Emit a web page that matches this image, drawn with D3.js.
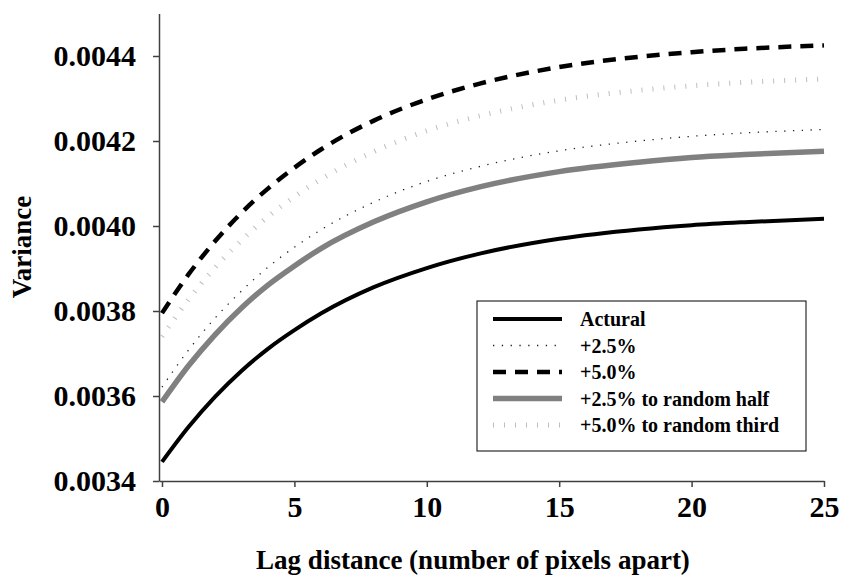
<!DOCTYPE html>
<html>
<head>
<meta charset="utf-8">
<script src="https://cdn.jsdelivr.net/npm/d3@7"></script>
<style>
  body { margin: 0; background: #fff; }
  svg text { font-family: "Liberation Serif", "Times New Roman", serif; font-weight: bold; fill: #000; }
  .axis path, .axis line { stroke: #404040; stroke-width: 1.5; }
</style>
</head>
<body>
<svg id="chart" width="841" height="585"></svg>
<script>
// lag distances (pixels apart)
const lags = [0, 1, 2, 3, 4, 5, 6, 8, 10, 12, 15, 18, 20, 22, 25];

// variance, one array per series
const actural = [0.003445, 0.003527, 0.003598, 0.003659, 0.003711, 0.003755, 0.003794, 0.003856, 0.003901, 0.003935, 0.003970, 0.003992, 0.004002, 0.004009, 0.004017];
const plus25 = [0.003621, 0.003708, 0.003783, 0.003847, 0.003903, 0.003950, 0.003991, 0.004056, 0.004105, 0.004140, 0.004177, 0.004200, 0.004211, 0.004219, 0.004227];
const plus50 = [0.003795, 0.003886, 0.003964, 0.004031, 0.004088, 0.004137, 0.004180, 0.004248, 0.004298, 0.004335, 0.004374, 0.004398, 0.004409, 0.004417, 0.004425];
const plus25Half = [0.003586, 0.003671, 0.003744, 0.003807, 0.003861, 0.003906, 0.003947, 0.004010, 0.004057, 0.004092, 0.004128, 0.004150, 0.004161, 0.004168, 0.004176];
const plus50Third = [0.003740, 0.003827, 0.003902, 0.003966, 0.004022, 0.004069, 0.004110, 0.004175, 0.004224, 0.004259, 0.004296, 0.004319, 0.004330, 0.004338, 0.004346];

const xTicks = [0, 5, 10, 15, 20, 25];
const yTicks = [0.0034, 0.0036, 0.0038, 0.0040, 0.0042, 0.0044];

const series = [
  { name: "Actural", values: actural, color: "#000", width: 4, dash: null },
  { name: "+2.5%", values: plus25, color: "#222", width: 1.3, dash: "1.3,7.5" },
  { name: "+5.0%", values: plus50, color: "#000", width: 4.5, dash: "13,9" },
  { name: "+2.5% to random half", values: plus25Half, color: "#808080", width: 5.5, dash: null },
  { name: "+5.0% to random third", values: plus50Third, color: "#bdbdbd", width: 5, dash: "1,10" }
];

const svg = d3.select("svg#chart");

// scales, left domain a touch below 0 so the y axis sits just left of lag 0
const x = d3.scaleLinear().domain([-0.113, 25]).range([159, 824]);
const y = d3.scaleLinear().domain([0.0034, 0.0045]).range([481, 13.5]);

// axes
svg.append("g")
  .attr("class", "axis")
  .attr("transform", "translate(0,481)")
  .call(d3.axisBottom(x).tickValues(xTicks).tickSizeInner(6).tickSizeOuter(0).tickPadding(8))
  .call(g => g.selectAll("text").style("font-size", "30px").attr("dy", "0.72em"));

svg.append("g")
  .attr("class", "axis")
  .attr("transform", "translate(159,0)")
  .call(d3.axisLeft(y).tickValues(yTicks).tickFormat(d3.format(".4f")).tickSizeInner(6).tickSizeOuter(0).tickPadding(17))
  .call(g => g.selectAll("text").style("font-size", "30px"));

// axis titles
svg.append("text")
  .attr("x", 473).attr("y", 569)
  .attr("text-anchor", "middle")
  .style("font-size", "27px")
  .text("Lag distance (number of pixels apart)");

svg.append("text")
  .attr("transform", "translate(31,247) rotate(-90)")
  .attr("text-anchor", "middle")
  .style("font-size", "27px")
  .text("Variance");

// lines
const line = d3.line()
  .x((d, i) => x(lags[i]))
  .y(d => y(d))
  .curve(d3.curveMonotoneX);

// draw in order so the dashed and grey lines sit on top of the light ones
const drawOrder = [4, 1, 0, 3, 2];
svg.append("g").selectAll("path")
  .data(drawOrder.map(i => series[i]))
  .enter()
  .append("path")
  .attr("d", d => line(d.values))
  .attr("fill", "none")
  .attr("stroke", d => d.color)
  .attr("stroke-width", d => d.width)
  .attr("stroke-dasharray", d => d.dash);

// legend
const legend = svg.append("g").attr("transform", "translate(477,301)");
legend.append("rect")
  .attr("width", 329).attr("height", 150)
  .attr("fill", "#fff")
  .attr("stroke", "#000")
  .attr("stroke-width", 1);

const rows = legend.selectAll("g.row")
  .data(series)
  .enter()
  .append("g")
  .attr("class", "row")
  .attr("transform", (d, i) => `translate(0,${18 + i * 26.5})`);

rows.append("line")
  .attr("x1", 16).attr("x2", 85)
  .attr("stroke", d => d.color)
  .attr("stroke-width", d => d.width)
  .attr("stroke-dasharray", d => d.dash);

rows.append("text")
  .attr("x", 103).attr("dy", "0.35em")
  .style("font-size", "20px")
  .text(d => d.name);
</script>
</body>
</html>
